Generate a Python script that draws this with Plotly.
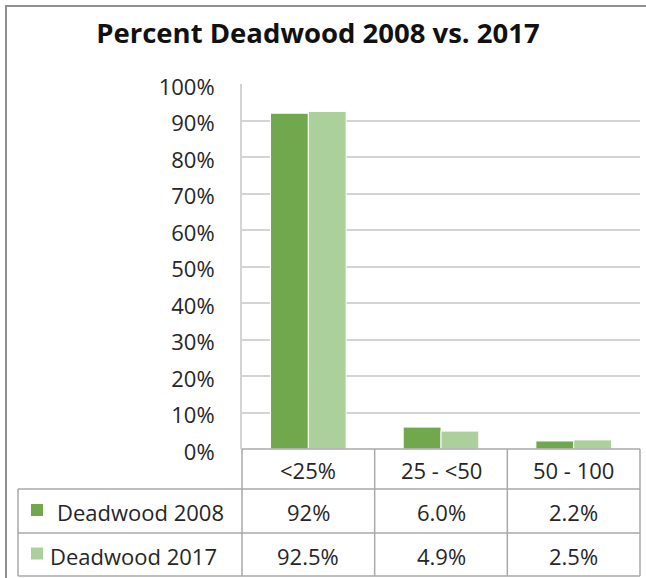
import plotly.graph_objects as go

# Chart data
categories = ["<25%", "25 - <50", "50 - 100"]
series_names = ["Deadwood 2008", "Deadwood 2017"]
deadwood_2008 = [92, 6.0, 2.2]
deadwood_2017 = [92.5, 4.9, 2.5]
labels_2008 = ["92%", "6.0%", "2.2%"]
labels_2017 = ["92.5%", "4.9%", "2.5%"]
y_ticks = [0, 10, 20, 30, 40, 50, 60, 70, 80, 90, 100]

W, H = 646, 578
PLOT_L, PLOT_R, PLOT_T, PLOT_B = 242, 640, 84, 449

dark = "#71a84d"
light = "#abd09b"
grid = "#d3d3d3"
border = "#a9a9a9"
text_col = "#262626"
FONT = "Open Sans"
FS = 22


def px(x):
    return (x - PLOT_L) / (PLOT_R - PLOT_L)


def py(y):
    return (PLOT_B - y) / (PLOT_B - PLOT_T)


fig = go.Figure()
for name, vals, col in [(series_names[0], deadwood_2008, dark),
                        (series_names[1], deadwood_2017, light)]:
    fig.add_trace(go.Bar(
        x=categories, y=vals, name=name,
        marker=dict(color=col, line=dict(color="#ffffff", width=1)),
        hoverinfo="x+y+name",
    ))

shapes = []
annotations = []

def hline(x0, x1, y, color=border, width=1.5):
    shapes.append(dict(type="line", xref="paper", yref="paper",
                       x0=px(x0), x1=px(x1), y0=py(y), y1=py(y),
                       line=dict(color=color, width=width), layer="above"))


def vline(x, y0, y1, color=border, width=1.5):
    shapes.append(dict(type="line", xref="paper", yref="paper",
                       x0=px(x), x1=px(x), y0=py(y0), y1=py(y1),
                       line=dict(color=color, width=width), layer="above"))

# outer chart frame
shapes.append(dict(type="rect", xref="paper", yref="paper",
                   x0=px(6), x1=px(652), y0=py(6), y1=py(600),
                   line=dict(color="#8f8f8f", width=2), layer="below"))

# data table grid
TBL_ROWS = [449, 489, 533, 576]
LEG_L = 18
n = len(categories)
col_edges = [PLOT_L + i * (PLOT_R - PLOT_L) / n for i in range(n + 1)]
hline(PLOT_L, PLOT_R, TBL_ROWS[0])
for r in TBL_ROWS[1:]:
    hline(LEG_L, PLOT_R, r)
for cx in col_edges:
    vline(cx, TBL_ROWS[0], TBL_ROWS[-1])
vline(LEG_L, TBL_ROWS[1], TBL_ROWS[-1])

# table text
row_centers = [(TBL_ROWS[i] + TBL_ROWS[i + 1]) / 2 + 1 for i in range(3)]
for i, cat in enumerate(categories):
    cx = (col_edges[i] + col_edges[i + 1]) / 2
    for row, txt in [(0, cat), (1, labels_2008[i]), (2, labels_2017[i])]:
        annotations.append(dict(
            xref="paper", yref="paper", x=px(cx), y=py(row_centers[row]),
            text=txt, showarrow=False, xanchor="center", yanchor="middle",
            font=dict(family=FONT, size=FS, color=text_col)))

# legend keys in the table
for row, name, col, tx in [(1, series_names[0], dark, 55), (2, series_names[1], light, 48)]:
    cy = row_centers[row] - 2
    shapes.append(dict(type="rect", xref="paper", yref="paper",
                       x0=px(31), x1=px(43), y0=py(cy - 6), y1=py(cy + 6),
                       fillcolor=col, line=dict(width=0), layer="above"))
    annotations.append(dict(
        xref="paper", yref="paper", x=px(tx), y=py(row_centers[row]),
        text=name, showarrow=False, xanchor="left", yanchor="middle",
        font=dict(family=FONT, size=FS, color=text_col)))

fig.update_layout(
    width=W, height=H,
    margin=dict(l=PLOT_L, r=W - PLOT_R, t=PLOT_T, b=H - PLOT_B, pad=0),
    paper_bgcolor="white", plot_bgcolor="white",
    barmode="group", bargap=0.43, bargroupgap=0.0,
    showlegend=False,
    title=dict(text="<b>Percent Deadwood 2008 vs. 2017</b>",
               x=318 / W, xref="container", xanchor="center",
               y=1 - 33 / H, yref="container", yanchor="middle",
               font=dict(family=FONT, size=27.5, color="#111111")),
    font=dict(family=FONT, color=text_col),
    xaxis=dict(showticklabels=False, showgrid=False, zeroline=False,
               showline=False, ticks="", fixedrange=True),
    yaxis=dict(range=[0, 100], tickvals=y_ticks,
               ticktext=[f"{v}%" for v in y_ticks],
               showgrid=True, gridcolor=grid, gridwidth=2,
               zeroline=False, showline=True, linecolor=grid, linewidth=2,
               ticks="", ticklabelstandoff=21, ticklabelshift=3,
               tickfont=dict(family=FONT, size=FS, color=text_col),
               fixedrange=True),
    shapes=shapes, annotations=annotations,
)

fig.write_html("out.html")
